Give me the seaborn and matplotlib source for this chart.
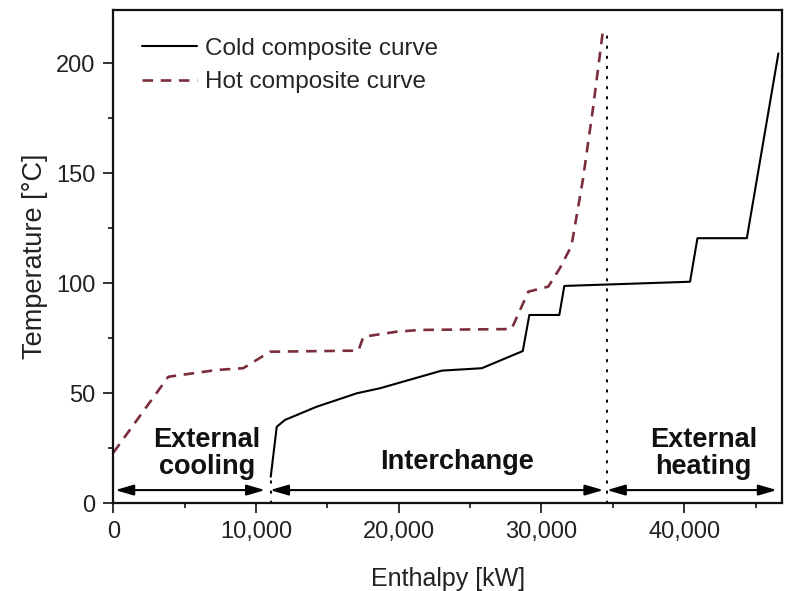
import matplotlib
matplotlib.use("Agg")
import matplotlib.pyplot as plt
from matplotlib.ticker import MultipleLocator, StrMethodFormatter
import numpy as np
import pandas as pd
import seaborn as sns

# composite curve points (enthalpy kW, temperature degC)
hot_h = [0, 3850, 5600, 7250, 9100, 10980, 17170, 17520, 19860, 21500, 27900,
         29080, 30480, 31300, 32100, 32900, 33600, 34300]
hot_t = [23, 57.5, 59.1, 60.6, 61.4, 68.9, 69.4, 75.7, 78.0, 78.8, 79.2,
         96.2, 98.5, 107, 117, 147, 179, 214.5]

cold_h = [11030, 11450, 12030, 14250, 17060, 18690, 23010, 25820, 28690,
          29150, 31250, 31600, 40410, 40930, 44390, 46600]
cold_t = [12.1, 34.8, 37.9, 43.9, 50.0, 52.3, 60.3, 61.4, 69.2,
          85.6, 85.6, 98.8, 100.7, 120.5, 120.5, 204.5]

pinch_h = 34580
cold_start_h = 11030

regions = ["External\ncooling", "Interchange", "External\nheating"]
region_span = [(130, 10630), (10980, 34340), (34580, 46490)]
region_label_pos = [(6550, 22.5), (24060, 18.9), (41350, 22.5)]

sns.set_theme(style="ticks")
plt.rcParams["font.family"] = ["Liberation Sans", "DejaVu Sans"]

fig = plt.figure(figsize=(7.87, 5.91), dpi=100)
ax = fig.add_axes([0.144, 0.1484, 0.8494, 0.8346])

cold = pd.DataFrame({"h": cold_h, "t": cold_t})
hot = pd.DataFrame({"h": hot_h, "t": hot_t})

sns.lineplot(data=cold, x="h", y="t", ax=ax, color="black", lw=1.5,
             sort=False, estimator=None, label="Cold composite curve")
sns.lineplot(data=hot, x="h", y="t", ax=ax, color="#7b2d3c", lw=1.9,
             sort=False, estimator=None, linestyle=(0, (4.0, 2.9)),
             label="Hot composite curve")

# pinch line and start of the cold curve
ax.plot([pinch_h, pinch_h], [0, 216], color="black", lw=1.4,
        linestyle=(0, (0.8, 4.4)), dash_capstyle="round")
ax.plot([cold_start_h, cold_start_h], [0, 12], color="black", lw=1.4,
        linestyle=(0, (0.8, 4.4)), dash_capstyle="round")

for name, (a, b), (tx, ty) in zip(regions, region_span, region_label_pos):
    ax.annotate("", xy=(b, 6), xytext=(a, 6),
                arrowprops=dict(arrowstyle="<|-|>,head_length=0.55,head_width=0.16",
                                mutation_scale=20, lw=1.5, color="black",
                                shrinkA=0, shrinkB=0))
    ax.text(tx, ty, name, ha="center", va="center", fontsize=19.5,
            fontweight="bold", color="#111111", linespacing=1.05)

ax.set_xlim(0, 46840)
ax.set_ylim(0, 224.2)
ax.xaxis.set_major_locator(MultipleLocator(10000))
ax.xaxis.set_minor_locator(MultipleLocator(5000))
ax.yaxis.set_major_locator(MultipleLocator(50))
ax.yaxis.set_minor_locator(MultipleLocator(25))
ax.xaxis.set_major_formatter(StrMethodFormatter("{x:,.0f}"))

ax.tick_params(which="major", length=7, width=1.3, labelsize=17,
               colors="#222222", direction="out", pad=6)
ax.tick_params(which="minor", length=3.5, width=1.3, direction="out")
for s in ax.spines.values():
    s.set_linewidth(1.6)
    s.set_color("#111111")

ax.set_xlabel("Enthalpy [kW]", fontsize=18, color="#222222", labelpad=17)
ax.set_ylabel("Temperature [°C]", fontsize=19.5, color="#222222", labelpad=6)

leg = ax.legend(loc="upper left", frameon=False, fontsize=17.5,
                handlelength=2.26, handletextpad=0.33, borderaxespad=0,
                borderpad=0.4, labelspacing=0.47,
                bbox_to_anchor=(0.028, 0.9635))

fig.savefig("out.png", dpi=100)
